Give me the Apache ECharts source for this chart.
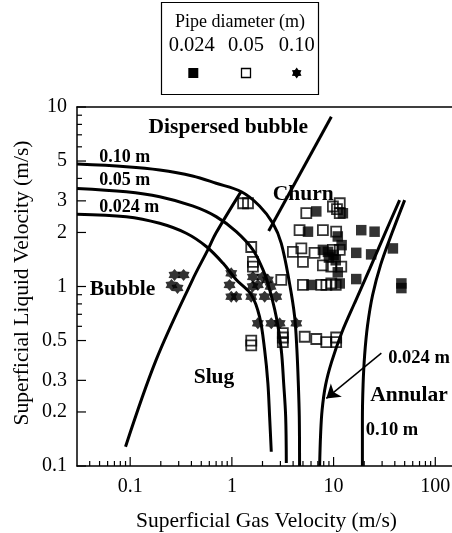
<!DOCTYPE html>
<html>
<head>
<meta charset="utf-8">
<script src="https://cdn.jsdelivr.net/npm/echarts@6/dist/echarts.min.js"></script>
<style>
html,body{margin:0;padding:0;background:#fff;}
#c{width:452px;height:533px;}
</style>
</head>
<body>
<div id="c"></div>
<script>
// ---------------- data ----------------
const xMajorTicks = [0.1, 1, 10, 100];
const xMajorLabels = ['0.1', '1', '10', '100'];
const xMinorTicks = [0.04,0.05,0.06,0.07,0.08,0.09, 0.2,0.3,0.4,0.5,0.6,0.7,0.8,0.9, 2,3,4,5,6,7,8,9, 20,30,40,50,60,70,80,90];
const yMajorTicks = [0.1, 0.2, 0.3, 0.5, 1, 2, 3, 5, 10];
const yMajorLabels = ['0.1', '0.2', '0.3', '0.5', '1', '2', '3', '5', '10'];
const yMinorTicks = [0.6, 0.7, 0.8, 0.9, 4, 6, 7, 8, 9];

// transition boundaries
const curve010 = [[0.03,4.81],[0.0915,4.65],[0.195,4.46],[0.41,4.13],[0.70,3.76],[1.24,3.37],[1.87,2.81],[2.53,2.25],[3.06,1.74],[3.69,1.04],[4.14,0.68],[4.36,0.443],[4.50,0.289],[4.60,0.188],[4.63,0.1]];
const curve005 = [[0.03,3.52],[0.0915,3.37],[0.195,3.16],[0.41,2.81],[0.70,2.45],[1.105,2.02],[1.61,1.60],[2.02,1.24],[2.26,1.04],[2.73,0.679],[3.06,0.443],[3.23,0.289],[3.38,0.188],[3.43,0.104]];
const curve0024 = [[0.03,2.53],[0.0915,2.45],[0.195,2.25],[0.356,1.98],[0.56,1.67],[0.816,1.35],[1.105,1.09],[1.55,0.90],[1.87,0.679],[2.10,0.443],[2.26,0.289],[2.35,0.188],[2.44,0.12]];
const bubbleSlug = [[0.090,0.128],[0.18,0.39],[0.41,1.09],[0.58,1.60],[0.70,1.99],[1.24,3.40]];
const churnLine = [[2.30,2.04],[9.5,8.83]];
const annular0024 = [[44.6,3.03],[31.8,1.96],[22.6,1.25],[16.1,0.809],[12.0,0.551],[9.56,0.380],[8.35,0.283],[7.71,0.205],[7.45,0.149],[7.29,0.1]];
const annular010 = [[50.0,3.03],[37.2,1.96],[29.0,1.32],[24.2,0.897],[21.6,0.610],[20.2,0.415],[19.5,0.283],[19.2,0.180],[19.2,0.1]];
const arrow0024 = [[29.5,0.425],[8.48,0.238]];

// measurements: pipe 0.024 m (filled squares)
const pts0024 = [[6.76,2.62],[12.35,2.56],[5.6,2.02],[11.0,1.9],[18.7,2.06],[25.3,2.02],[7.85,1.6],[8.8,1.56],[16.7,1.54],[23.4,1.51],[38.3,1.63],[6.04,1.02],[11.5,1.04],[16.7,1.1],[46.4,1.04],[46.4,0.98],[10,1.5],[9,1.45],[10.5,1.4],[12,1.7],[11,1.2]];
// pipe 0.05 m (open squares)
const pts005 = [[1.29,2.91],[1.44,2.91],[1.55,1.66],[1.61,1.37],[1.61,1.29],[1.55,0.50],[1.55,0.47],[3.06,1.09],[3.17,0.55],[3.17,0.52],[3.17,0.49],[5.2,0.525],[6.76,0.51],[8.48,0.49],[10.6,0.49],[10.6,0.52],[11.5,2.91],[9.85,2.79],[10.8,2.7],[5.39,2.56],[11.5,2.56],[4.63,2.06],[7.85,2.06],[10.6,2.02],[3.98,1.56],[4.82,1.63],[5.0,1.37],[6.5,1.54],[9.85,1.6],[11.5,1.6],[7.85,1.31],[9.5,1.29],[11.9,1.29],[5.0,1.02],[7.57,1.02],[9.5,1.04],[8.5,1.02],[10.5,1.02]];
// pipe 0.10 m (stars)
const pts010 = [[0.273,1.159],[0.335,1.159],[0.255,1.02],[0.292,0.981],[0.986,1.184],[0.949,1.02],[0.986,0.877],[1.105,0.877],[1.55,0.877],[2.10,0.877],[2.73,0.877],[1.61,1.13],[2.26,1.09],[1.8,1.02],[2.0,1.13],[2.4,1.0],[1.6,1.0],[1.80,0.624],[2.44,0.624],[2.95,0.624],[4.30,0.624]];

const legendTitle = 'Pipe diameter (m)';
const legendNames = ['0.024', '0.05', '0.10'];

// ---------------- chart ----------------
const FONT = '"Liberation Serif","Times New Roman",serif';
const XMIN = 0.03, XMAX = 146, YMIN = 0.1, YMAX = 10;
const starPath = 'path://M0,-10L3.25,-5.629L8.66,-5L6.5,0L8.66,5L3.25,5.629L0,10L-3.25,5.629L-8.66,5L-6.5,0L-8.66,-5L-3.25,-5.629Z';

function hexagram(cx, cy, r) {
  const pts = [];
  for (let i = 0; i < 12; i++) {
    const a = -Math.PI / 2 + i * Math.PI / 6;
    const rr = i % 2 === 0 ? r : r * 0.65;
    pts.push([cx + rr * Math.cos(a), cy + rr * Math.sin(a)]);
  }
  return pts;
}

const tickData = [];
xMajorTicks.forEach(v => tickData.push([v, YMIN, 9, 0]));
xMinorTicks.forEach(v => tickData.push([v, YMIN, 5, 0]));
yMajorTicks.forEach(v => tickData.push([XMIN, v, 9, 1]));
yMinorTicks.forEach(v => tickData.push([XMIN, v, 5, 1]));

const labelData = [];
xMajorTicks.forEach((v, i) => labelData.push({value: [v, YMIN, 0], name: xMajorLabels[i]}));
yMajorTicks.forEach((v, i) => labelData.push({value: [XMIN, v, 1], name: yMajorLabels[i]}));

function lineSeries(data) {
  return {type: 'line', data: data, smooth: 0.35, symbol: 'none', silent: true,
    lineStyle: {color: '#000', width: 3}, z: 3};
}

const chart = echarts.init(document.getElementById('c'), null, {renderer: 'canvas'});
chart.setOption({
  animation: false,
  backgroundColor: '#fff',
  grid: {left: 77, top: 107, right: 0, bottom: 67, show: false},
  xAxis: [
    {type: 'log', logBase: 10, min: XMIN, max: XMAX, position: 'bottom',
     axisLine: {show: true, lineStyle: {color: '#000', width: 1.5}},
     axisTick: {show: false}, axisLabel: {show: false}, splitLine: {show: false}},
    {type: 'log', logBase: 10, min: XMIN, max: XMAX, position: 'top',
     axisLine: {show: true, lineStyle: {color: '#000', width: 1.5}},
     axisTick: {show: false}, axisLabel: {show: false}, splitLine: {show: false}}
  ],
  yAxis: {type: 'log', logBase: 10, min: YMIN, max: YMAX,
     axisLine: {show: true, lineStyle: {color: '#000', width: 1.5}},
     axisTick: {show: false}, axisLabel: {show: false}, splitLine: {show: false}},
  series: [
    lineSeries(curve010), lineSeries(curve005), lineSeries(curve0024),
    lineSeries(bubbleSlug), lineSeries(churnLine),
    lineSeries(annular0024), lineSeries(annular010),
    {type: 'line', data: [], silent: true,
     markLine: {silent: true, symbol: ['none', 'arrow'], symbolSize: 13,
       label: {show: false},
       lineStyle: {color: '#000', width: 1.5, type: 'solid'},
       data: [[{coord: arrow0024[0], symbol: 'none'}, {coord: arrow0024[1], symbol: 'arrow', symbolSize: 13}]]}},
    {type: 'scatter', name: '0.024', data: pts0024, symbol: 'rect', symbolSize: 10.5,
     itemStyle: {color: '#000'}, z: 4},
    {type: 'scatter', name: '0.05', data: pts005, symbol: 'rect', symbolSize: 10,
     itemStyle: {color: 'rgba(255,255,255,0)', borderColor: '#000', borderWidth: 1.8}, z: 4},
    {type: 'scatter', name: '0.10', data: pts010, symbol: starPath, symbolSize: [12, 12],
     itemStyle: {color: '#000'}, z: 4},
    {type: 'custom', data: tickData, silent: true, clip: false, z: 5,
     renderItem: function (params, api) {
       const p = api.coord([api.value(0), api.value(1)]);
       const len = api.value(2);
       const horiz = api.value(3) === 1;
       return {type: 'line', shape: horiz ? {x1: p[0], y1: p[1], x2: p[0] + len, y2: p[1]}
                                          : {x1: p[0], y1: p[1], x2: p[0], y2: p[1] - len},
         style: {stroke: '#000', lineWidth: 1.2}};
     }},
    {type: 'custom', data: labelData, silent: true, clip: false, z: 5,
     renderItem: function (params, api) {
       const p = api.coord([api.value(0), api.value(1)]);
       const isY = api.value(2) === 1;
       const name = labelData[params.dataIndex].name;
       return {type: 'text', x: isY ? p[0] - 10 : p[0], y: isY ? p[1] : p[1] + 20.5,
         style: {text: name, fill: '#000', font: '20px ' + FONT,
           align: isY ? 'right' : 'center', verticalAlign: 'middle'}};
     }}
  ],
  graphic: [
    {type: 'text', x: 266.5, y: 521, style: {text: 'Superficial Gas Velocity (m/s)', fill: '#000', font: '21.5px ' + FONT, align: 'center', verticalAlign: 'middle'}},
    {type: 'text', x: 22, y: 283, rotation: Math.PI / 2, style: {text: 'Superficial Liquid Velocity (m/s)', fill: '#000', font: '21.5px ' + FONT, align: 'center', verticalAlign: 'middle'}},
    // region labels
    {type: 'text', x: 228.3, y: 127.5, z: 0, style: {text: 'Dispersed bubble', fill: '#000', font: 'bold 21.5px ' + FONT, align: 'center', verticalAlign: 'middle'}},
    {type: 'text', x: 303.3, y: 194, z: 0, style: {text: 'Churn', fill: '#000', font: 'bold 21.5px ' + FONT, align: 'center', verticalAlign: 'middle'}},
    {type: 'text', x: 122.5, y: 289, z: 0, style: {text: 'Bubble', fill: '#000', font: 'bold 21.5px ' + FONT, align: 'center', verticalAlign: 'middle'}},
    {type: 'text', x: 214, y: 377, z: 0, style: {text: 'Slug', fill: '#000', font: 'bold 21.5px ' + FONT, align: 'center', verticalAlign: 'middle'}},
    {type: 'text', x: 409, y: 395.5, z: 0, style: {text: 'Annular', fill: '#000', font: 'bold 21.5px ' + FONT, align: 'center', verticalAlign: 'middle'}},
    {type: 'text', x: 419, y: 358, z: 0, style: {text: '0.024 m', fill: '#000', font: 'bold 18.5px ' + FONT, align: 'center', verticalAlign: 'middle'}},
    {type: 'text', x: 392, y: 430, z: 0, style: {text: '0.10 m', fill: '#000', font: 'bold 18.5px ' + FONT, align: 'center', verticalAlign: 'middle'}},
    {type: 'text', x: 99.3, y: 157.5, z: 0, style: {text: '0.10 m', fill: '#000', font: 'bold 18px ' + FONT, align: 'left', verticalAlign: 'middle'}},
    {type: 'text', x: 99.3, y: 180, z: 0, style: {text: '0.05 m', fill: '#000', font: 'bold 18px ' + FONT, align: 'left', verticalAlign: 'middle'}},
    {type: 'text', x: 99.3, y: 207, z: 0, style: {text: '0.024 m', fill: '#000', font: 'bold 18px ' + FONT, align: 'left', verticalAlign: 'middle'}},
    // legend box
    {type: 'rect', shape: {x: 161.5, y: 2.5, width: 157, height: 92}, style: {fill: '#fff', stroke: '#000', lineWidth: 1.2}},
    {type: 'text', x: 240, y: 22, style: {text: legendTitle, fill: '#000', font: '18px ' + FONT, align: 'center', verticalAlign: 'middle'}},
    {type: 'text', x: 191.7, y: 46, style: {text: legendNames[0], fill: '#000', font: '20.5px ' + FONT, align: 'center', verticalAlign: 'middle'}},
    {type: 'text', x: 246, y: 46, style: {text: legendNames[1], fill: '#000', font: '20.5px ' + FONT, align: 'center', verticalAlign: 'middle'}},
    {type: 'text', x: 296.7, y: 46, style: {text: legendNames[2], fill: '#000', font: '20.5px ' + FONT, align: 'center', verticalAlign: 'middle'}},
    {type: 'rect', shape: {x: 188.3, y: 68, width: 10, height: 10}, style: {fill: '#000'}},
    {type: 'rect', shape: {x: 241.5, y: 68.5, width: 9, height: 9}, style: {fill: '#fff', stroke: '#000', lineWidth: 1.3}},
    {type: 'polygon', shape: {points: hexagram(296.7, 73, 5.5)}, style: {fill: '#000'}}
  ]
});
</script>
</body>
</html>
